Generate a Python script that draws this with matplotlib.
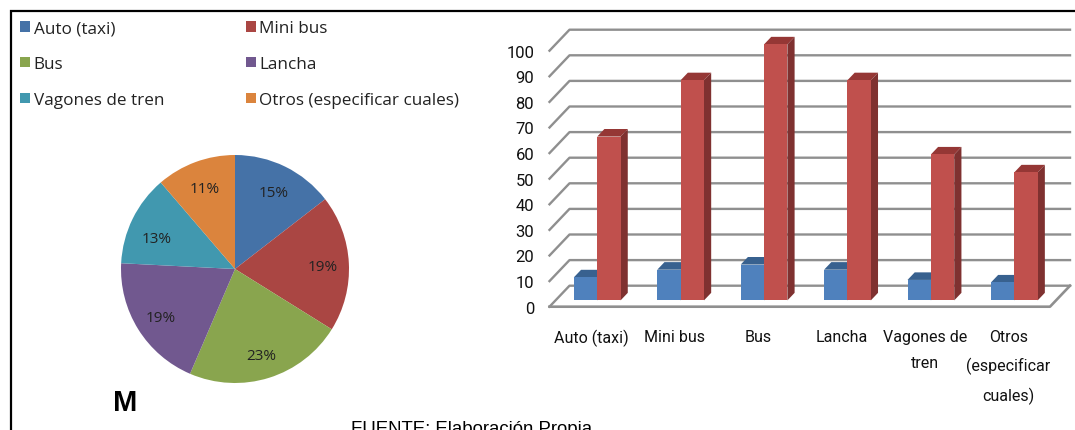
import matplotlib
matplotlib.use("Agg")
import matplotlib.pyplot as plt
from matplotlib.patches import Patch, Rectangle

categories = ["Auto (taxi)", "Mini bus", "Bus", "Lancha", "Vagones de\ntren", "Otros\n(especificar\ncuales)"]
legend_labels = ["Auto (taxi)", "Mini bus", "Bus", "Lancha", "Vagones de tren", "Otros (especificar cuales)"]
blue_values = [9, 12, 14, 12, 8, 7]
red_values = [64, 86, 100, 86, 57, 50]
pie_colors = ["#4572A7", "#AA4643", "#89A54E", "#71588F", "#4198AF", "#DB843D"]
yticks = list(range(0, 101, 10))

W, H = 1075, 431
NARROW = ["Roboto", "Open Sans"]
fig = plt.figure(figsize=(W / 100, H / 100), dpi=100, facecolor="white")

def px_axes(x0, y_top, x1, y_bottom):
    return fig.add_axes([x0 / W, 1 - y_bottom / H, (x1 - x0) / W, (y_bottom - y_top) / H])

# frame
bg = fig.add_axes([0, 0, 1, 1])
bg.set_xlim(0, W); bg.set_ylim(H, 0); bg.axis("off")
bg.plot([10.5, 10.5, W], [H, 11.5, 11.5], color="black", lw=1.6, solid_joinstyle="miter")

# pie
pie_ax = px_axes(235 - 114, 270 - 114, 235 + 114, 270 + 114)
wedges, _, autotexts = pie_ax.pie(
    blue_values, colors=pie_colors, startangle=90, counterclock=False, radius=1,
    autopct=lambda p: f"{p:.0f}%", pctdistance=0.77,
    textprops=dict(family="Open Sans", fontsize=11, color="#222222"))
pie_ax.set_xlim(-1, 1); pie_ax.set_ylim(-1, 1)
for t in autotexts:
    x, y = t.get_position()
    t.set_position((x, y - 0.02))
x, y = autotexts[4].get_position()
autotexts[4].set_position((x, y - 0.05))

order = [0, 2, 4, 1, 3, 5]
handles = [Patch(facecolor=pie_colors[i], label=legend_labels[i]) for i in order]
fig.legend(handles=handles, ncol=2, loc="upper left", bbox_to_anchor=(13.5 / W, 1 - 14.5 / H),
           frameon=False, borderaxespad=0, borderpad=0.4,
           prop=dict(family="Open Sans", size=12.3),
           handlelength=0.58, handleheight=0.58, handletextpad=0.2,
           labelspacing=1.16, columnspacing=4.8, labelcolor="#222222")

# bars with a drawn 3D box
ax = px_axes(549.5, 51.7, 1050, 307.7)
n = len(categories)
ax.set_xlim(0, n); ax.set_ylim(0, 100)
for s in ax.spines.values():
    s.set_visible(False)
sx = 20 / 83.4          # depth along x, in category units
sy = 21 / 2.56          # depth along y, in value units
grid = "#8f8f8f"
for v in yticks:
    ax.plot([0, sx, n + sx], [v, v + sy, v + sy], color=grid, lw=1.7, clip_on=False, zorder=1)
ax.plot([0, n, n + sx], [0, 0, sy], color=grid, lw=1.9, clip_on=False, zorder=1)

d0, d1 = 0.30, 0.66
w = 0.28
def bar3d(x, v, front, top, side):
    xa, xb = x + d0 * sx, x + w + d0 * sx
    ya, yb = d0 * sy, v + d0 * sy
    dx, dy = (d1 - d0) * sx, (d1 - d0) * sy
    ax.fill([xa, xb, xb + dx, xa + dx], [yb, yb, yb + dy, yb + dy], color=top, lw=0, clip_on=False, zorder=3)
    ax.fill([xb, xb + dx, xb + dx, xb], [ya, ya + dy, yb + dy, yb], color=side, lw=0, clip_on=False, zorder=3)
    ax.add_patch(Rectangle((xa, ya), w, v, facecolor=front, lw=0, clip_on=False, zorder=3))

for i in range(n):
    c = i + 0.5
    bar3d(c - w, blue_values[i], "#4F81BD", "#38618F", "#2F5480")
    bar3d(c, red_values[i], "#C0504D", "#953735", "#7F3130")

ax.set_xticks([i + 0.5 for i in range(n)])
ax.set_xticklabels(categories, family=NARROW, fontsize=11.5, color="#111111", linespacing=1.95, va="top")
ax.set_yticks(yticks)
ax.set_yticklabels([str(v) for v in yticks], family=NARROW, fontsize=12, color="#111111")
ax.tick_params(axis="both", length=0)
ax.tick_params(axis="x", pad=16)
ax.tick_params(axis="y", pad=11)
ax.patch.set_visible(False)

# outside texts
bg.text(125, 411, "M", family="Liberation Sans", weight="bold", fontsize=21, ha="center", va="baseline", color="black")
bg.text(472, 434, "FUENTE: Elaboración Propia", family="Liberation Sans", fontsize=13.4, ha="center", va="baseline", color="black")

fig.savefig("out.png", dpi=100)
